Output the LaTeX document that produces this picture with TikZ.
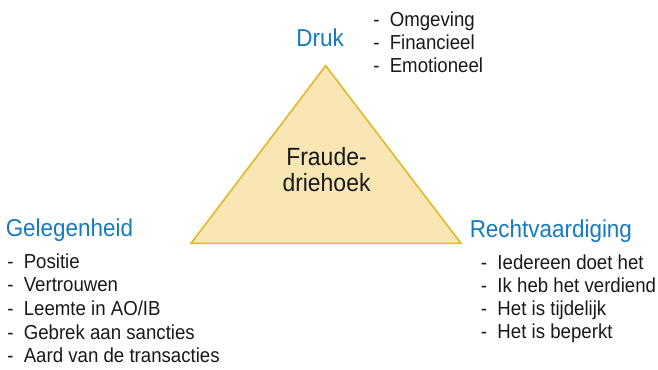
\documentclass[tikz,border=0pt]{standalone}
\usepackage{fontspec}
\setmainfont[FakeStretch=0.92]{Liberation Sans}
\definecolor{headblue}{RGB}{22,122,192}
\definecolor{trifill}{RGB}{248,230,181}
\definecolor{triedge}{RGB}{226,184,40}
\definecolor{txt}{RGB}{25,25,25}
\newcommand{\itm}[1]{\makebox[12.4pt][l]{-}#1}
\begin{document}
\begin{tikzpicture}[x=0.75pt,y=-0.75pt,
  heading/.style={anchor=base west,inner sep=0pt,text=headblue,font=\fontsize{18.3pt}{22pt}\selectfont},
  item/.style={anchor=base west,inner sep=0pt,text=txt,font=\fontsize{15.2pt}{18pt}\selectfont},
  center/.style={anchor=base,inner sep=0pt,text=txt,font=\fontsize{18.7pt}{22pt}\selectfont}]
\useasboundingbox (0,0) rectangle (658,369);
\coordinate (apex) at (325.7,65.7);
\coordinate (bl) at (191,243.3);
\coordinate (br) at (461,243.3);
\draw[fill=trifill,draw=triedge,line width=1.2pt,line join=miter] (apex) -- (br) -- (bl) -- cycle;
\node[center] (c1) at (326.5,165) {Fraude-};
\node[center] (c2) at (326.5,191.7) {driehoek};
\node[heading] (druk) at (296.2,46) {Druk};
\node[item] (d1) at (373,26) {\itm{Omgeving}};
\node[item] (d2) at (373,49.5) {\itm{Financieel}};
\node[item] (d3) at (373,72) {\itm{Emotioneel}};
\node[heading] (gel) at (5.5,236.7) {Gelegenheid};
\node[item] (g1) at (7,268.3) {\itm{Positie}};
\node[item] (g2) at (7,291.7) {\itm{Vertrouwen}};
\node[item] (g3) at (7,315.5) {\itm{Leemte in AO/IB}};
\node[item] (g4) at (7,339.3) {\itm{Gebrek aan sancties}};
\node[item] (g5) at (7,362.7) {\itm{Aard van de transacties}};
\node[heading] (rec) at (469.5,237.3) {Rechtvaardiging};
\node[item] (r1) at (480.7,269.3) {\itm{Iedereen doet het}};
\node[item] (r2) at (480.7,292) {\itm{Ik heb het verdiend}};
\node[item] (r3) at (480.7,315) {\itm{Het is tijdelijk}};
\node[item] (r4) at (480.7,338.3) {\itm{Het is beperkt}};
\end{tikzpicture}
\end{document}
